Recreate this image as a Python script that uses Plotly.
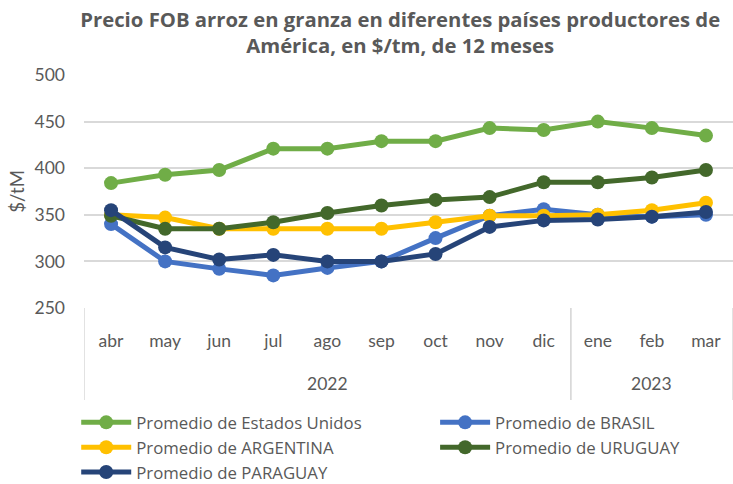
import plotly.graph_objects as go

months = ["abr", "may", "jun", "jul", "ago", "sep", "oct", "nov", "dic", "ene", "feb", "mar"]
years = ["2022"] * 9 + ["2023"] * 3

usa = [384, 393, 398, 421, 421, 429, 429, 443, 441, 450, 443, 435]
brasil = [340, 300, 292, 285, 293, 300, 325, 349, 356, 350, 348, 350]
argentina = [350, 347, 335, 335, 335, 335, 342, 349, 349, 350, 355, 363]
uruguay = [349, 335, 335, 342, 352, 360, 366, 369, 385, 385, 390, 398]
paraguay = [355, 315, 302, 307, 300, 300, 308, 337, 344, 345, 348, 353]

series = [
    ("Promedio de Estados Unidos", usa, "#70ad47", "legend"),
    ("Promedio de BRASIL", brasil, "#4472c4", "legend2"),
    ("Promedio de ARGENTINA", argentina, "#ffc000", "legend"),
    ("Promedio de URUGUAY", uruguay, "#43682b", "legend2"),
    ("Promedio de PARAGUAY", paraguay, "#264478", "legend"),
]

fig = go.Figure()
for name, vals, color, leg in series:
    fig.add_trace(go.Scatter(
        x=months, y=vals, name=name, mode="lines+markers",
        line=dict(color=color, width=5),
        marker=dict(color=color, size=14),
        legend=leg,
    ))

# year group labels and dividers derived from the years list
groups = []
start = 0
for i in range(1, len(years) + 1):
    if i == len(years) or years[i] != years[start]:
        groups.append((years[start], start, i - 1))
        start = i

grid_c = "#d9d9d9"
shapes = []
annotations = []
for yr, a, b in groups:
    annotations.append(dict(
        x=(a + b) / 2, y=-0.322, xref="x", yref="paper", text=yr,
        showarrow=False, xanchor="center", yanchor="middle",
        font=dict(size=17.5, color="#595959"),
    ))
    for edge in (a - 0.5, b + 0.5):
        shapes.append(dict(
            type="line", xref="x", yref="paper", x0=edge, x1=edge, y0=0, y1=-0.395,
            line=dict(color=grid_c, width=1.5),
        ))

font = "Lato, Calibri, 'Noto Sans', sans-serif"
legend_common = dict(
    orientation="v", yanchor="top", y=-0.416, traceorder="normal",
    font=dict(size=16.8, color="#595959", family="'Open Sans', sans-serif"), itemwidth=50,
    bgcolor="rgba(0,0,0,0)", tracegroupgap=0,
)
fig.update_layout(
    width=733, height=484,
    margin=dict(l=84, r=0, t=75, b=176, autoexpand=False),
    paper_bgcolor="white", plot_bgcolor="white",
    font=dict(family=font, size=17, color="#595959"),
    title=dict(
        text="<b>Precio FOB arroz en granza en diferentes países productores de<br>América, en $/tm, de 12 meses</b>",
        x=0.546, xanchor="center", xref="container", y=0.945, yanchor="top",
        font=dict(size=20.3, color="#595959", family="'Open Sans', sans-serif"),
    ),
    yaxis=dict(
        range=[250, 500], dtick=50, showgrid=True, gridcolor=grid_c, gridwidth=1.5,
        zeroline=False, showline=False, ticks="", ticklabelstandoff=18,
        title=dict(text="$/tM", standoff=5, font=dict(size=18.5)),
        tickfont=dict(size=17.5),
    ),
    xaxis=dict(
        type="category", range=[-0.5, len(months) - 0.5], showgrid=False,
        showline=False, ticks="", tickfont=dict(size=17.5), ticklabelstandoff=20,
    ),
    showlegend=True,
    legend=dict(x=-0.012, xanchor="left", **legend_common),
    legend2=dict(x=0.541, xanchor="left", **legend_common),
    shapes=shapes,
    annotations=annotations,
)

fig.write_html("out.html")
